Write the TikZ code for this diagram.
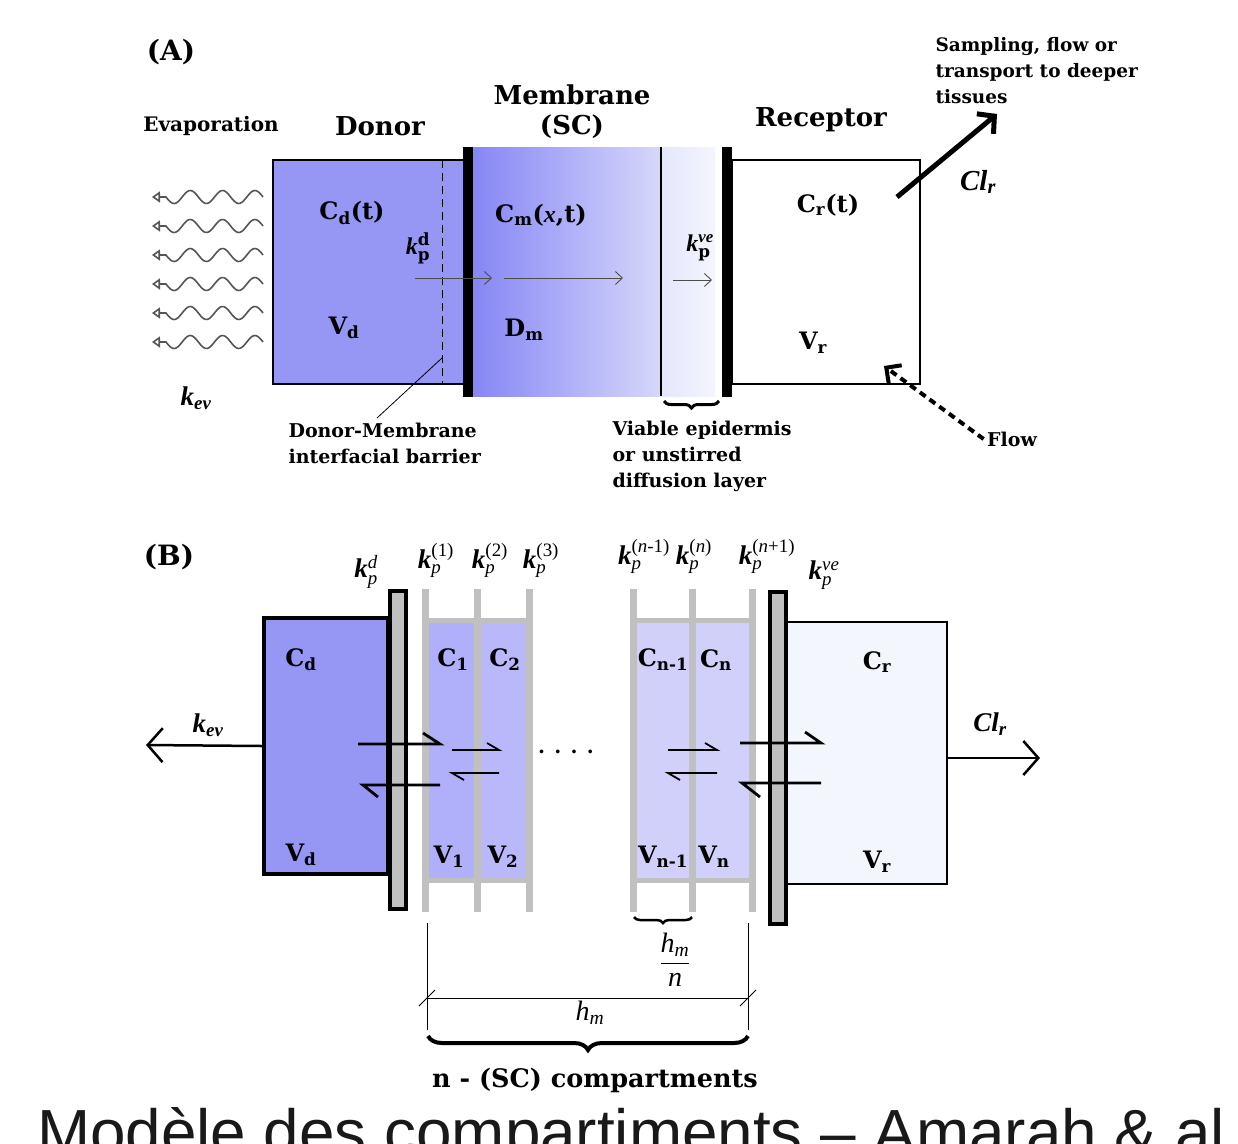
\documentclass[tikz,border=0pt]{standalone}
\usepackage{amsmath}
\usepackage{fontspec}
\setmainfont{DejaVu Serif}
\newfontfamily\timesfont{Liberation Serif}
\newfontfamily\capfont{Liberation Sans}
\usetikzlibrary{arrows.meta,decorations.pathreplacing}

\definecolor{donorblue}{RGB}{150,150,245}
\definecolor{membblue}{RGB}{134,134,245}
\definecolor{membpale}{RGB}{214,216,250}
\definecolor{vepale}{RGB}{228,230,252}
\definecolor{compblue}{RGB}{176,176,250}
\definecolor{comppale}{RGB}{208,208,250}
\definecolor{recpale}{RGB}{243,246,253}
\definecolor{wallgray}{RGB}{192,192,192}
\definecolor{wavegray}{RGB}{85,85,85}

% k_p labels of panel (B)
\newcommand{\kpB}[1]{{\timesfont\bfseries\itshape k}$^{\text{\timesfont\mdseries #1}}_{\text{\timesfont\mdseries\itshape p}}$}

\begin{document}
\begin{tikzpicture}[x=1pt,y=-1pt,
    bigtxt/.style={font=\fontsize{26}{30}\selectfont\bfseries},
    smalltxt/.style={font=\fontsize{19}{26}\selectfont\bfseries, align=left},
    vartxt/.style={font=\fontsize{24}{28}\selectfont\bfseries},
    ktxt/.style={font=\fontsize{27}{28}\selectfont\bfseries, inner sep=1pt},
    thinarrow/.style={draw=black!70, line width=0.9pt, -{Straight Barb[length=7pt,width=13pt]}},
    wavy/.style={draw=wavegray, line width=1.6pt, -{Triangle[open,length=8pt,width=11pt]}},
    wall/.style={draw=wallgray, line width=7pt},
    harp/.style={line width=2.8pt, line join=miter},
    smallharp/.style={line width=1.8pt},
    bigarrow/.style={line width=2.5pt, -{Straight Barb[length=15pt,width=34pt]}},
    brc/.style={decorate, decoration={brace, amplitude=#1}},
  ]
  % Background and size
  \fill[white] (0,0) rectangle (1238,1143);
  \useasboundingbox (0,0) rectangle (1238,1143);

  %% ================= (A) =================
  \node[font=\fontsize{28}{30}\selectfont\bfseries] (panelA) at (171,52) {(A)};

  % Evaporation waves (three periods, then the tip)
  \foreach \yy in {197,226,255,284,313,342} {
    \draw[wavy] plot[smooth, domain=263:166, samples=60] (\x,{\yy-6.5*sin(11.135*(263-\x))}) -- (152,\yy);
  }

  % Membrane (SC) and viable epidermis
  \shade[left color=membblue, right color=membpale] (473,147) rectangle (661,396);
  \shade[left color=vepale, right color=vepale!40] (661,147) rectangle (715,396);
  \draw[line width=2pt] (661,147) -- (661,396);

  % Donor and receptor compartments
  \node[draw, fill=donorblue, line width=2.2pt, minimum width=192pt, minimum height=224pt] (donorA) at (369,272) {};
  \draw[line width=1pt, dash pattern=on 8pt off 5pt] (442,160) -- (442,384);
  \node[draw, fill=white, line width=2.2pt, minimum width=188pt, minimum height=224pt] (recA) at (826,272) {};

  % Black interfaces
  \fill (463,147) rectangle (473,397);
  \fill (722,147) rectangle (732,397);

  % Titles
  \node[font=\fontsize{20}{24}\selectfont\bfseries] (evap) at (211,126) {Evaporation};
  \node[bigtxt] (donorT) at (380,126) {Donor};
  \node[bigtxt, align=center] (membT) at (572,112) {Membrane\\(SC)};
  \node[bigtxt] (recT) at (821,120) {Receptor};

  % Labels inside
  \node[vartxt] (cdt) at (352,213) {C\textsubscript{d}(t)};
  \node[vartxt] (vd) at (344,328) {V\textsubscript{d}};
  \node[vartxt] (kpd) at (418,248) {{\timesfont\itshape k}$^{\text{d}}_{\text{p}}$};
  \node[vartxt] (cmxt) at (541,215) {C\textsubscript{m}({\timesfont\itshape x},t)};
  \node[vartxt] (dm) at (524,330) {D\textsubscript{m}};
  \node[vartxt] (kpve) at (700,248) {{\timesfont\itshape k}$^{\text{\timesfont\itshape ve}}_{\text{p}}$};
  \node[vartxt] (crt) at (828,205) {C\textsubscript{r}(t)};
  \node[vartxt] (vr) at (813,343) {V\textsubscript{r}};
  \node[ktxt] (kevA) at (196,398) {{\timesfont\itshape k}\textsubscript{\timesfont\itshape ev}};

  % Diffusion arrows
  \draw[thinarrow] (415,278) -- (492,278);
  \draw[thinarrow] (504,278) -- (623,278);
  \draw[thinarrow] (673,280) -- (712,280);

  % Bottom notes
  \node[smalltxt, anchor=west] (barrier) at (285,443) {Donor-Membrane\\interfacial barrier};
  \draw[line width=0.8pt] (442,358) -- (377,418);
  \draw[brc=7pt, line width=3pt] (719,401) -- (664,401);
  \node[smalltxt, anchor=west] (viable) at (609,456) {Viable epidermis\\or unstirred\\diffusion layer};

  % Sampling
  \node[font=\fontsize{18.5}{26}\selectfont\bfseries, align=left, anchor=west] (sampling) at (932,71) {Sampling, flow or\\transport to deeper\\tissues};
  \coordinate (clstart) at (897,197);
  \coordinate (cltip) at (997,114);
  \draw[line width=5pt, -{Straight Barb[length=12pt,width=26pt]}] (clstart) -- (cltip);
  \node[ktxt, font=\fontsize{29}{30}\selectfont\bfseries] (clA) at (978,182) {{\timesfont\itshape Cl}\textsubscript{\timesfont\itshape r}};

  % Flow
  \node[smalltxt] (flow) at (1012,439) {Flow};
  \coordinate (flowtip) at (884,366);
  \draw[line width=4pt, dash pattern=on 7pt off 5pt, -{Straight Barb[length=11pt,width=22pt]}] (flow.west) -- (flowtip);

  %% ================= (B) =================
  \node[font=\fontsize{28}{30}\selectfont\bfseries] (panelB) at (169,557) {(B)};

  % SC compartments
  \fill[compblue] (425,620) rectangle (477,880);
  \fill[compblue!90!white] (477,620) rectangle (529,880);
  \fill[comppale] (633,620) rectangle (752,880);
  \draw[wallgray, line width=5pt] (425,620) -- (529,620) (425,880) -- (529,880);
  \draw[wallgray, line width=5pt] (633,620) -- (752,620) (633,880) -- (752,880);
  \foreach \x in {425,477,529,633,692,752} {
    \draw[wall] (\x,589) -- (\x,912);
  }

  % Donor and receptor
  \node[draw, fill=donorblue, line width=4pt, minimum width=124pt, minimum height=256pt] (donorB) at (326,746) {};
  \node[draw, fill=recpale, line width=2.5pt, minimum width=160pt, minimum height=262pt] (recB) at (867,753) {};
  \draw[fill=wallgray, line width=4pt] (390,591) rectangle (406,909);
  \draw[fill=wallgray, line width=4pt] (770,592) rectangle (786,924);

  % Exchange harpoons
  \draw[harp] (358,744) -- (440,744) -- (423,733);
  \draw[harp] (440,785) -- (363,785) -- (378,797);
  \draw[smallharp] (452,750) -- (499,750) -- (487,743);
  \draw[smallharp] (499,773) -- (452,773) -- (464,780);
  \draw[smallharp] (668,750) -- (717,750) -- (705,743);
  \draw[smallharp] (717,773) -- (668,773) -- (680,780);
  \draw[harp] (740,743) -- (821,743) -- (805,732);
  \draw[harp] (821,783) -- (742,783) -- (760,797);
  \node[font=\fontsize{20}{24}\selectfont\bfseries] (dots) at (566,752) {. . . .};

  % Clearance arrows
  \coordinate (kevend) at (146,745);
  \coordinate (clend) at (1040,758);
  \draw[bigarrow] (donorB.west) -- (kevend);
  \draw[bigarrow] ([yshift=-5pt]recB.east) -- (clend);
  \node[ktxt] (kevB) at (208,725) {{\timesfont\itshape k}\textsubscript{\timesfont\itshape ev}};
  \node[ktxt] (clB) at (990,724) {{\timesfont\itshape Cl}\textsubscript{\timesfont\itshape r}};

  % Concentrations and volumes
  \node[vartxt] (cd) at (301,660) {C\textsubscript{d}};
  \node[vartxt] (vdB) at (301,855) {V\textsubscript{d}};
  \node[vartxt] (c1) at (453,660) {C\textsubscript{1}};
  \node[vartxt] (c2) at (505,660) {C\textsubscript{2}};
  \node[vartxt] (v1) at (449,857) {V\textsubscript{1}};
  \node[vartxt] (v2) at (503,857) {V\textsubscript{2}};
  \node[vartxt] (cn1) at (663,660) {C\textsubscript{n-1}};
  \node[vartxt] (cn) at (716,660) {C\textsubscript{n}};
  \node[vartxt] (vn1) at (663,857) {V\textsubscript{n-1}};
  \node[vartxt] (vn) at (714,857) {V\textsubscript{n}};
  \node[vartxt] (cr) at (877,662) {C\textsubscript{r}};
  \node[vartxt] (vrB) at (877,862) {V\textsubscript{r}};

  % Permeability coefficients
  \node[ktxt] (kd) at (366,572) {\kpB{\textit{d}}};
  \node[ktxt] (k1) at (436,560) {\kpB{(1)}};
  \node[ktxt] (k2) at (490,560) {\kpB{(2)}};
  \node[ktxt] (k3) at (541,560) {\kpB{(3)}};
  \node[ktxt] (kn1) at (644,556) {\kpB{(\textit{n}-1)}};
  \node[ktxt] (kn) at (694,556) {\kpB{(\textit{n})}};
  \node[ktxt] (kn2) at (767,556) {\kpB{(\textit{n}+1)}};
  \node[ktxt] (kve) at (824,575) {\kpB{\textit{ve}}};

  % Thickness
  \draw[brc=6pt, line width=2.5pt] (692,917) -- (634,917);
  \node[font=\timesfont\itshape\fontsize{28}{30}\selectfont] (hmn) at (675,960) {$\dfrac{\text{h}_{\text{m}}}{\text{n}}$};
  \draw[line width=0.8pt] (427,923) -- (427,1030) (748,923) -- (748,1030);
  \draw[line width=0.8pt] (427,998) -- (748,998);
  \draw[line width=0.8pt] (419,1006) -- (435,990) (740,1006) -- (756,990);
  \node[font=\timesfont\itshape\fontsize{28}{30}\selectfont] (hm) at (590,1013) {h\textsubscript{m}};
  \draw[brc=14pt, line width=4pt] (748,1036) -- (428,1036);
  \node[font=\fontsize{25.5}{28}\selectfont\bfseries] (ncomp) at (595,1080) {n - (SC) compartments};

  % Caption (cut by the page edge)
  \node[font=\capfont\fontsize{63.8}{70}\selectfont, anchor=base, text=black!90] (caption) at (631,1154) {Modèle des compartiments – Amarah \& al};
\end{tikzpicture}
\end{document}
